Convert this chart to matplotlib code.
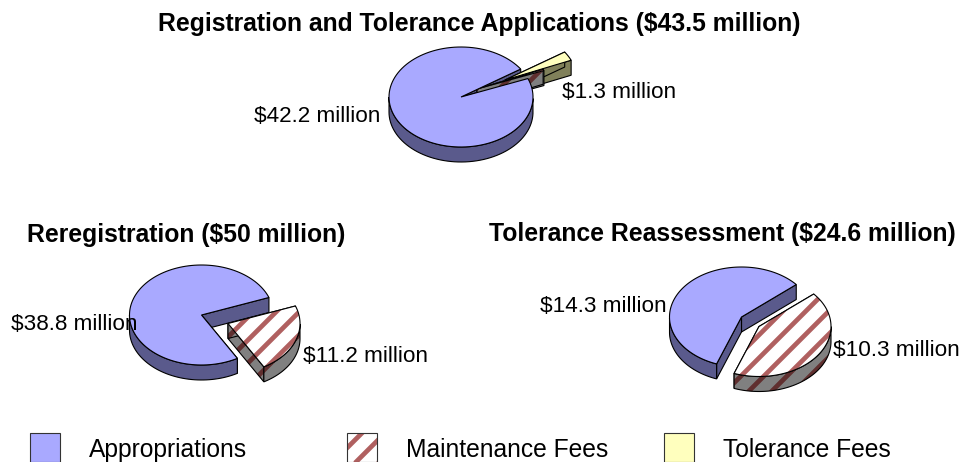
import numpy as np
import matplotlib
matplotlib.use("Agg")
import matplotlib.pyplot as plt
from matplotlib.patches import Polygon, Rectangle

plt.rcParams["font.family"] = ["Liberation Sans", "DejaVu Sans"]

# ---------------- DATA ---------------- #
series_names = ["Appropriations", "Maintenance Fees", "Tolerance Fees"]
titles = ["Registration and Tolerance Applications ($43.5 million)",
          "Reregistration ($50 million)",
          "Tolerance Reassessment ($24.6 million)"]
top_values = [42.2, 0.2, 1.3]
left_values = [38.8, 11.2, 0.0]
right_values = [14.3, 10.3, 0.0]
top_labels = ["$42.2 million", "$1.3 million"]
left_labels = ["$38.8 million", "$11.2 million"]
right_labels = ["$14.3 million", "$10.3 million"]

# ---------------- STYLE ---------------- #
W, H = 961, 462
RX, RY, DEPTH = 72, 50, 15
STRIPE_STEP = 23
face_colors = ["#A9A9FF", "white", "#FFFFBE"]
wall_colors = ["#5A5A8C", "#808080", "#80805A"]
stripe_face = "#B06060"
stripe_wall = "#602F2F"

fig = plt.figure(figsize=(W / 100, H / 100), dpi=100)
ax = fig.add_axes([0, 0, 1, 1])
ax.set_xlim(0, W)
ax.set_ylim(H, 0)
ax.axis("off")


def add_stripes(patch, stripe, z):
    # matplotlib's hatch spacing is too fine or too wide, so clip plain lines to the shape
    for c in np.arange(13, W + H, STRIPE_STEP):
        line, = ax.plot([0, c], [c, 0], color=stripe, lw=3.4, solid_capstyle="butt", zorder=z)
        line.set_clip_path(patch)


def shape(poly_pts, color, hatched, stripe, z):
    fill = Polygon(poly_pts, closed=True, facecolor=color, edgecolor="none", zorder=z)
    ax.add_patch(fill)
    if hatched:
        add_stripes(fill, stripe, z)
    ax.add_patch(Polygon(poly_pts, closed=True, fill=False, edgecolor="black", lw=0.8, zorder=z))


def draw_slice(cx, cy, a0, a1, idx, z_wall, z_top):
    t = np.radians(np.linspace(a0, a1, 120))
    xs = cx + RX * np.cos(t)
    ys = cy - RY * np.sin(t)
    hatched = idx == 1
    # radial walls
    for x_end, y_end in [(xs[0], ys[0]), (xs[-1], ys[-1])]:
        wall = [(cx, cy), (x_end, y_end), (x_end, y_end + DEPTH), (cx, cy + DEPTH)]
        shape(wall, wall_colors[idx], hatched, stripe_wall, z_wall)
    # outer wall, only the part that faces the viewer
    front = np.sin(t) <= 0
    if front.any():
        fx, fy = xs[front], ys[front]
        pts = list(zip(fx, fy)) + list(zip(fx[::-1], fy[::-1] + DEPTH))
        shape(pts, wall_colors[idx], hatched, stripe_wall, z_top - 0.05)
    # top face
    top = [(cx, cy)] + list(zip(xs, ys))
    shape(top, face_colors[idx], hatched, stripe_face, z_top)


def draw_pie(values, cx, cy, start, explode):
    # blue runs counter clockwise from start, the others clockwise from it
    total = sum(values)
    sweeps = [v / total * 360 for v in values]
    draw_slice(cx, cy, start, start + sweeps[0], 0, 2, 3.5)
    a = start
    for idx, z in ((2, 2.5), (1, 3)):
        if sweeps[idx] == 0:
            continue
        a0 = a - sweeps[idx]
        off = explode[idx]
        draw_slice(cx + off[0], cy + off[1], a0, a, idx, z, z + 0.1)
        a = a0


# ---------------- PIES ---------------- #
draw_pie(top_values, 461, 97, 34, {2: (44, -17), 1: (16, -8)})
draw_pie(left_values, 201.5, 315, 20.5, {1: (26.5, 8.5)})
draw_pie(right_values, 741.5, 317, 40.5, {1: (17.5, 9.5)})

# ---------------- TEXT ---------------- #
title_font = dict(fontsize=17.8, fontweight="bold", ha="center", va="center", zorder=5)
ax.text(479, 24, titles[0], **title_font)
ax.text(186, 235, titles[1], **title_font)
ax.text(722, 234, titles[2], **title_font)

label_font = dict(fontsize=16.2, ha="left", va="center", zorder=5)
ax.text(254, 117, top_labels[0], **label_font)
ax.text(562, 93, top_labels[1], **label_font)
ax.text(11, 324, left_labels[0], **label_font)
ax.text(303, 356, left_labels[1], **label_font)
ax.text(540, 307, right_labels[0], **label_font)
ax.text(833, 351, right_labels[1], **label_font)

# ---------------- LEGEND ---------------- #
for x_box, x_text, name, col in zip([30, 347, 664], [89, 406, 723], series_names, face_colors):
    box = Rectangle((x_box, 433), 30, 29, facecolor=col, edgecolor="none", zorder=4)
    ax.add_patch(box)
    if col == "white":
        add_stripes(box, stripe_face, 4)
    ax.add_patch(Rectangle((x_box, 433), 30, 29, fill=False, edgecolor="#333333", lw=0.8, zorder=4.1))
    ax.text(x_text, 450, name, fontsize=17.7, ha="left", va="center", zorder=5)

ax.set_xlim(0, W)
ax.set_ylim(H, 0)
fig.savefig("out.png", dpi=100)
